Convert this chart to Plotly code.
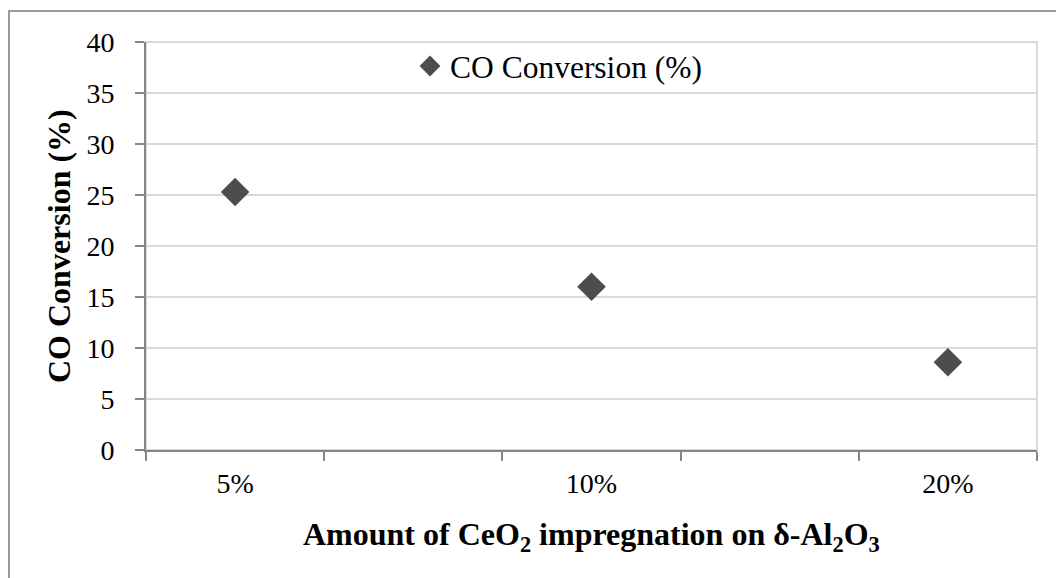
import plotly.graph_objects as go

# ---- data ----
categories = ["5%", "10%", "20%"]
co_conversion = [25.3, 16.0, 8.6]
axis_slots = ["5%", " ", "10%", "  ", "20%"]   # blank slots between labelled categories
y_ticks = [0, 5, 10, 15, 20, 25, 30, 35, 40]
series_name = "CO Conversion (%)"
x_title = "<b>Amount of CeO<sub>2</sub> impregnation on δ-Al<sub>2</sub>O<sub>3</sub></b>"
y_title = "<b>CO Conversion (%)</b>"

W, H = 1056, 578
L, R, T, B = 146, 19, 42, 128
pw, ph = W - L - R, H - T - B

def px_x(p):
    return (p - L) / pw

def px_y(p):
    return (H - B - p) / ph

FONT = "Liberation Serif, Times New Roman, serif"
AX = "#868686"

fig = go.Figure()
fig.add_trace(go.Scatter(
    x=categories, y=co_conversion, mode="markers", name=series_name,
    marker=dict(symbol="diamond", size=22, color="#4d4d4d", line=dict(width=0)),
    showlegend=True,
))

fig.update_layout(
    width=W, height=H,
    margin=dict(l=L, r=R, t=T, b=B, autoexpand=False),
    paper_bgcolor="white", plot_bgcolor="white",
    showlegend=True,
    legend=dict(
        x=px_x(410), y=px_y(39), xanchor="left", yanchor="top",
        bgcolor="rgba(0,0,0,0)", font=dict(family=FONT, size=31.5, color="black"),
        itemwidth=30,
    ),
    xaxis=dict(
        type="category", categoryorder="array", categoryarray=axis_slots,
        range=[-0.5, 4.5], tickson="boundaries",
        ticks="outside", ticklen=9, tickwidth=2, tickcolor=AX,
        showline=True, linecolor=AX, linewidth=2, showgrid=False,
        tickfont=dict(family=FONT, size=28, color="black"),
        ticklabelstandoff=7,
    ),
    yaxis=dict(
        range=[0, 40], tickvals=y_ticks,
        ticks="outside", ticklen=9, tickwidth=2, tickcolor=AX,
        showline=True, linecolor=AX, linewidth=2,
        showgrid=True, gridcolor="#d9d9d9", gridwidth=2, zeroline=False,
        tickfont=dict(family=FONT, size=28, color="black"),
        ticklabelstandoff=15,
    ),
    annotations=[
        dict(text=y_title, xref="paper", yref="paper", x=px_x(59), y=0.5,
             xanchor="center", yanchor="middle", textangle=-90, showarrow=False,
             font=dict(family=FONT, size=32, color="black")),
        dict(text=x_title, xref="paper", yref="paper", x=0.5, y=px_y(536),
             xanchor="center", yanchor="middle", showarrow=False,
             font=dict(family=FONT, size=32, color="black")),
    ],
    shapes=[
        dict(type="rect", xref="paper", yref="paper", x0=0, x1=1, y0=0, y1=1,
             line=dict(color="#d9d9d9", width=2), layer="below"),
        dict(type="rect", xref="paper", yref="paper",
             x0=px_x(9), x1=px_x(1070), y0=px_y(11), y1=px_y(600),
             line=dict(color="#9a9a9a", width=2), layer="below"),
    ],
)

fig.write_html("out.html")
